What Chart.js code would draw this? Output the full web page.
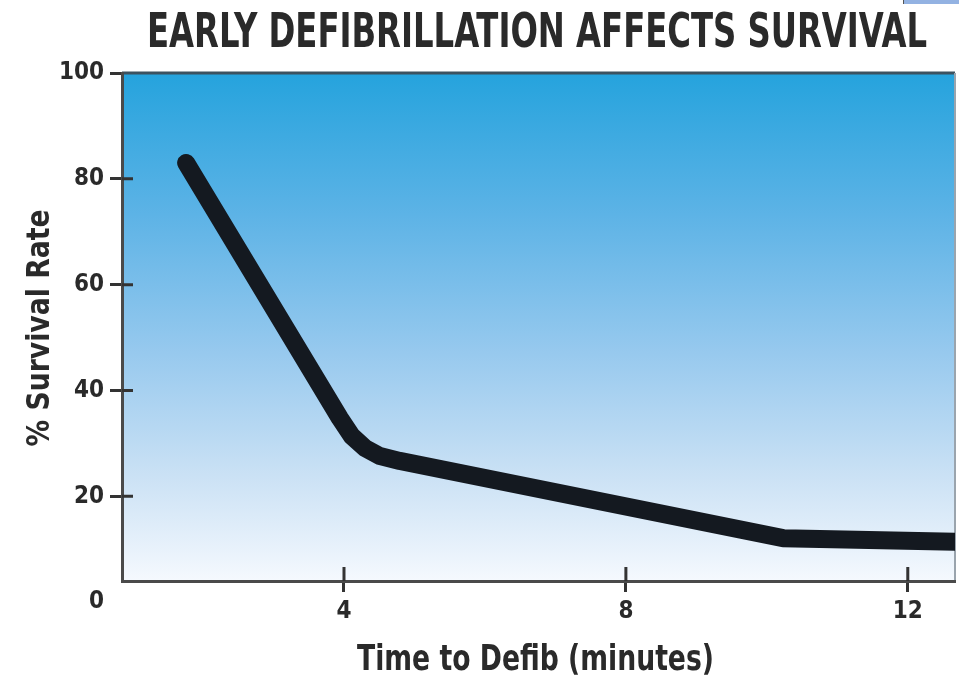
<!DOCTYPE html>
<html>
<head>
<meta charset="utf-8">
<title>Early Defibrillation Affects Survival</title>
<script src="https://cdn.jsdelivr.net/npm/chart.js@4/dist/chart.umd.min.js"></script>
<style>
  html, body { margin: 0; padding: 0; background: #ffffff; }
  #wrap { width: 959px; height: 681px; }
</style>
</head>
<body>
<div id="wrap"><canvas id="chart" width="959" height="681"></canvas></div>
<script>
// Text
const chartTitle = 'EARLY DEFIBRILLATION AFFECTS SURVIVAL';
const xAxisTitle = 'Time to Defib (minutes)';
const yAxisTitle = '% Survival Rate';

// Survival curve: minutes to defibrillation vs. % survival
const timeMinutes  = [1.76, 3.94, 4.11, 4.30, 4.51, 4.79, 10.23, 12.67];
const survivalRate = [83.0, 34.8, 31.4, 29.1, 27.6, 26.7, 12.1, 11.4];

// Axis ticks
const xTickValues = [4, 8, 12];
const yTickValues = [0, 20, 40, 60, 80, 100];

const FONT = "'Liberation Sans Narrow', 'DejaVu Sans Condensed', 'Roboto', sans-serif";
const INK = '#2a2a2a';

// Draws condensed text squeezed to a given width, optionally rotated.
function drawFitted(ctx, text, cx, baseline, width, size, rotate) {
  ctx.save();
  ctx.font = 'bold ' + size + 'px ' + FONT;
  ctx.fillStyle = INK;
  ctx.textAlign = 'center';
  ctx.textBaseline = 'alphabetic';
  const w = ctx.measureText(text).width;
  if (rotate) {
    ctx.translate(baseline, cx);
    ctx.rotate(-Math.PI / 2);
  } else {
    ctx.translate(cx, baseline);
  }
  ctx.scale(width / w, 1);
  ctx.fillText(text, 0, 0);
  ctx.restore();
}

const decorations = {
  id: 'decorations',
  beforeDraw(chart) {
    const { ctx, chartArea: a } = chart;
    ctx.save();
    ctx.fillStyle = '#ffffff';
    ctx.fillRect(0, 0, chart.width, chart.height);
    const g = ctx.createLinearGradient(0, a.top, 0, a.bottom);
    g.addColorStop(0.00, '#25a3dd');
    g.addColorStop(0.28, '#5db3e6');
    g.addColorStop(0.55, '#97c9ee');
    g.addColorStop(0.80, '#cce2f5');
    g.addColorStop(1.00, '#f5f9fe');
    ctx.fillStyle = g;
    ctx.fillRect(a.left, a.top, a.right - a.left, a.bottom - a.top);
    // frame: top and right edges
    ctx.strokeStyle = '#3c5260';
    ctx.lineWidth = 3;
    ctx.beginPath();
    ctx.moveTo(a.left, a.top);
    ctx.lineTo(a.right, a.top);
    ctx.stroke();
    ctx.strokeStyle = '#9aa4ad';
    ctx.lineWidth = 2;
    ctx.beginPath();
    ctx.moveTo(a.right, a.top);
    ctx.lineTo(a.right, a.bottom);
    ctx.stroke();
    // small tab in the upper right corner
    ctx.fillStyle = '#93b2e2';
    ctx.fillRect(903, 0, 56, 4);
    ctx.fillStyle = '#555555';
    ctx.fillRect(903, 0, 1, 4);
    ctx.restore();
  },
  afterDraw(chart) {
    const { ctx, chartArea: a, scales } = chart;
    ctx.save();
    // inner halves of the tick marks
    ctx.strokeStyle = '#333333';
    ctx.lineWidth = 3;
    ctx.beginPath();
    scales.y.ticks.forEach(t => {
      if (t.value > scales.y.min && t.value < scales.y.max) {
        const py = scales.y.getPixelForValue(t.value);
        ctx.moveTo(a.left, py);
        ctx.lineTo(a.left + 11, py);
      }
    });
    scales.x.ticks.forEach(t => {
      const px = scales.x.getPixelForValue(t.value);
      ctx.moveTo(px, a.bottom);
      ctx.lineTo(px, a.bottom - 14);
    });
    ctx.stroke();
    ctx.restore();
    // titles
    drawFitted(ctx, chartTitle, 537, 47, 780, 48, false);
    drawFitted(ctx, xAxisTitle, 535.5, 670, 357, 35, false);
    drawFitted(ctx, yAxisTitle, 328, 49, 237, 32, true);
  }
};

new Chart(document.getElementById('chart'), {
  type: 'line',
  data: {
    datasets: [{
      label: '% Survival Rate',
      data: timeMinutes.map((t, i) => ({ x: t, y: survivalRate[i] })),
      borderColor: '#141920',
      borderWidth: 18,
      borderCapStyle: 'round',
      borderJoinStyle: 'round',
      tension: 0,
      pointRadius: 0,
      pointHoverRadius: 0,
      fill: false,
      clip: 0
    }]
  },
  options: {
    responsive: false,
    animation: false,
    devicePixelRatio: 1,
    layout: { padding: { top: 73, right: 4, bottom: 0, left: 0 } },
    plugins: {
      legend: { display: false },
      title: { display: false },
      tooltip: { enabled: false }
    },
    events: [],
    scales: {
      x: {
        type: 'linear',
        min: 0.85,
        max: 12.67,
        afterBuildTicks: s => { s.ticks = xTickValues.map(v => ({ value: v })); },
        afterFit: s => { s.height = 100; },
        grid: { drawOnChartArea: false, drawTicks: true, tickLength: 11, tickWidth: 3, tickColor: '#333333' },
        border: { display: true, color: '#4a4a4a', width: 3 },
        ticks: {
          autoSkip: false,
          maxRotation: 0,
          padding: 5,
          color: INK,
          font: { family: FONT, size: 24, weight: 'bold' },
          callback: v => String(v)
        }
      },
      y: {
        type: 'linear',
        min: 4,
        max: 100,
        afterBuildTicks: s => { s.ticks = yTickValues.map(v => ({ value: v })); },
        afterFit: s => { s.width = 122; },
        grid: {
          drawOnChartArea: false,
          drawTicks: true,
          tickLength: 12,
          tickWidth: 3,
          tickColor: c => (c.tick && c.tick.value < 4 ? 'rgba(0,0,0,0)' : '#333333')
        },
        border: { display: true, color: '#4a4a4a', width: 3 },
        ticks: {
          autoSkip: false,
          padding: 6,
          color: INK,
          font: { family: FONT, size: 24, weight: 'bold' },
          callback: v => String(v)
        }
      }
    }
  },
  plugins: [decorations]
});
</script>
</body>
</html>
